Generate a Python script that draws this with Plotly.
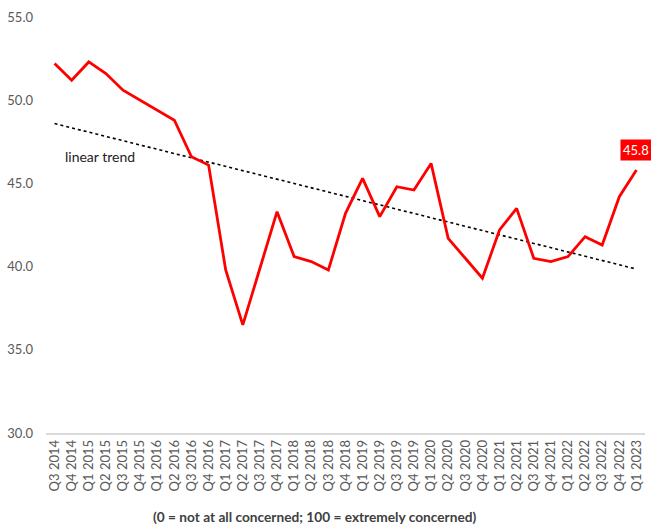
import numpy as np
import plotly.graph_objects as go

quarters = [
    "Q3 2014", "Q4 2014",
    "Q1 2015", "Q2 2015", "Q3 2015", "Q4 2015",
    "Q1 2016", "Q2 2016", "Q3 2016", "Q4 2016",
    "Q1 2017", "Q2 2017", "Q3 2017", "Q4 2017",
    "Q1 2018", "Q2 2018", "Q3 2018", "Q4 2018",
    "Q1 2019", "Q2 2019", "Q3 2019", "Q4 2019",
    "Q1 2020", "Q2 2020", "Q3 2020", "Q4 2020",
    "Q1 2021", "Q2 2021", "Q3 2021", "Q4 2021",
    "Q1 2022", "Q2 2022", "Q3 2022", "Q4 2022",
    "Q1 2023",
]

concern_index = [
    52.2, 51.2,
    52.3, 51.6, 50.6, 50.0,
    49.4, 48.8, 46.6, 46.1,
    39.8, 36.5, 39.9, 43.3,
    40.6, 40.3, 39.8, 43.2,
    45.3, 43.0, 44.8, 44.6,
    46.2, 41.7, 40.5, 39.3,
    42.2, 43.5, 40.5, 40.3,
    40.6, 41.8, 41.3, 44.2,
    45.8,
]

y_ticks = [30.0, 35.0, 40.0, 45.0, 50.0, 55.0]

# Least-squares linear trend through the series
idx = np.arange(len(concern_index))
slope, intercept = np.polyfit(idx, concern_index, 1)
trend = slope * idx + intercept

FONT = "Lato"
GREY = "#595959"

fig = go.Figure()

fig.add_trace(go.Scatter(
    x=quarters, y=trend, mode="lines",
    line=dict(color="black", width=1.6, dash="dot"),
    hoverinfo="skip", showlegend=False,
))

fig.add_trace(go.Scatter(
    x=quarters, y=concern_index, mode="lines",
    line=dict(color="#ff0000", width=2.8),
    showlegend=False,
))

# Callout for the latest value
fig.add_annotation(
    x=quarters[-1], y=concern_index[-1],
    text=f"{concern_index[-1]:.1f}",
    showarrow=False, yshift=20,
    font=dict(family=FONT, size=13, color="white"),
    bgcolor="#ff0000", borderpad=2,
)

fig.add_annotation(
    x=2.65, y=46.6, text="linear trend", showarrow=False,
    font=dict(family=FONT, size=14, color="#222222"),
)

fig.add_annotation(
    xref="paper", yref="paper", x=0.449, y=-0.201,
    text="<b>(0 = not at all concerned; 100 = extremely concerned)</b>",
    showarrow=False, yanchor="middle",
    font=dict(family=FONT, size=13.7, color="#404040"),
)

fig.update_layout(
    width=651, height=527,
    margin=dict(l=45.5, r=6, t=16.7, b=93.7),
    plot_bgcolor="white", paper_bgcolor="white",
    font=dict(family=FONT, color=GREY),
    xaxis=dict(
        type="category", range=[-0.5, len(quarters) - 0.5],
        tickangle=-90, tickfont=dict(size=13, color=GREY),
        showgrid=False, showline=True, linecolor="#d9d9d9", linewidth=1.5,
        ticks="", zeroline=False,
    ),
    yaxis=dict(
        range=[30, 55], tickvals=y_ticks,
        ticktext=[f"{v:.1f}" for v in y_ticks],
        tickfont=dict(size=13, color=GREY),
        showgrid=False, showline=False, zeroline=False, ticks="",
        ticklabelstandoff=12,
    ),
)

fig.write_html("out.html")
